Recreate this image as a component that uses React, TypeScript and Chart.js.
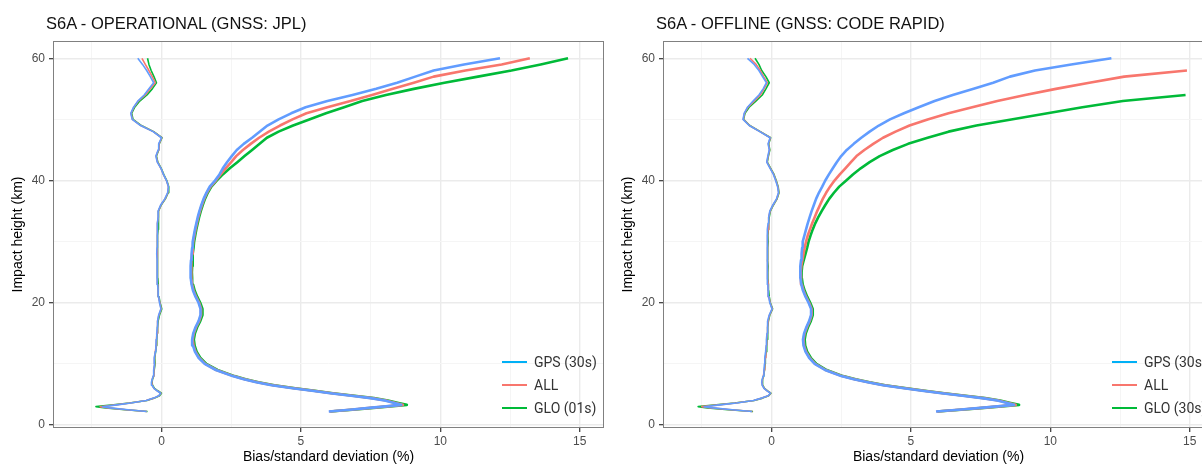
import React, { useEffect, useRef } from "react";
import { Chart, registerables } from "chart.js";

Chart.register(...registerables);

// ---------- data ----------
const HEIGHTS_KM = [
  2.2, 2.5, 2.8, 3.0, 3.3, 3.6, 4.0, 4.4, 4.8, 5.2, 5.6, 6.0, 6.5, 7.0, 7.5, 8.0,
  9, 10, 11, 12, 13, 14, 15, 16, 17, 18, 19, 20, 21, 22, 23, 24, 25, 26, 27, 28, 29, 30,
  31, 32, 33, 34, 35, 36, 37, 38, 39, 40, 41, 42, 43, 44, 45, 46, 47, 48, 49, 50,
  51, 52, 53, 54, 55, 56, 57, 58, 59, 60,
];

// Left panel: OPERATIONAL (GNSS: JPL)
const OPS_BIAS_GPS = [
  -0.53, -1.20, -1.85, -2.12, -1.60, -1.10, -0.55, -0.28, -0.10, -0.03, -0.16, -0.27, -0.34, -0.36, -0.33, -0.30,
  -0.28, -0.25, -0.26, -0.22, -0.20, -0.19, -0.17, -0.15, -0.14, -0.10, -0.02, -0.07, -0.10, -0.12, -0.14, -0.15, -0.16, -0.15, -0.16, -0.17, -0.16, -0.15,
  -0.16, -0.14, -0.14, -0.12, -0.12, -0.03, 0.12, 0.22, 0.25, 0.18, 0.07, -0.02, -0.15, -0.20, -0.12, -0.10, 0.00, -0.30, -0.75, -1.05,
  -1.10, -1.00, -0.85, -0.62, -0.45, -0.28, -0.40, -0.53, -0.68, -0.85,
];
const OPS_BIAS_ALL = [
  -0.52, -1.25, -1.92, -2.20, -1.65, -1.12, -0.55, -0.27, -0.09, -0.02, -0.15, -0.27, -0.33, -0.35, -0.33, -0.29,
  -0.27, -0.24, -0.25, -0.22, -0.19, -0.18, -0.16, -0.15, -0.13, -0.09, -0.01, -0.06, -0.10, -0.12, -0.13, -0.14, -0.15, -0.15, -0.15, -0.16, -0.15, -0.15,
  -0.15, -0.13, -0.13, -0.11, -0.11, -0.02, 0.13, 0.23, 0.25, 0.18, 0.07, -0.02, -0.14, -0.19, -0.11, -0.09, 0.01, -0.29, -0.74, -1.04,
  -1.09, -0.99, -0.83, -0.58, -0.40, -0.22, -0.33, -0.45, -0.58, -0.70,
];
const OPS_BIAS_GLO = [
  -0.50, -1.30, -2.00, -2.35, -1.72, -1.15, -0.52, -0.25, -0.07, 0.00, -0.13, -0.25, -0.32, -0.34, -0.32, -0.28,
  -0.26, -0.23, -0.24, -0.21, -0.18, -0.17, -0.15, -0.14, -0.12, -0.07, 0.01, -0.05, -0.09, -0.11, -0.12, -0.13, -0.14, -0.14, -0.14, -0.15, -0.14, -0.14,
  -0.14, -0.12, -0.12, -0.10, -0.10, -0.01, 0.14, 0.24, 0.26, 0.19, 0.08, -0.01, -0.13, -0.18, -0.10, -0.08, 0.02, -0.28, -0.72, -1.02,
  -1.07, -0.96, -0.78, -0.52, -0.33, -0.18, -0.27, -0.37, -0.45, -0.50,
];
const OPS_STD_GPS = [
  6.00, 6.75, 7.45, 7.95, 8.60, 8.35, 8.00, 7.50, 6.80, 6.05, 5.40, 4.70, 3.95, 3.40, 2.95, 2.55,
  1.95, 1.55, 1.33, 1.20, 1.13, 1.10, 1.14, 1.22, 1.33, 1.40, 1.40, 1.33, 1.22, 1.13, 1.08, 1.05, 1.04, 1.05, 1.06, 1.08, 1.10, 1.12,
  1.16, 1.20, 1.25, 1.30, 1.36, 1.43, 1.51, 1.61, 1.73, 1.92, 2.08, 2.20, 2.35, 2.52, 2.70, 2.95, 3.25, 3.52, 3.80, 4.20,
  4.65, 5.17, 5.95, 6.85, 7.70, 8.45, 9.10, 9.76, 10.85, 12.14,
];
const OPS_STD_ALL = [
  6.02, 6.78, 7.50, 8.00, 8.66, 8.40, 8.05, 7.55, 6.85, 6.10, 5.45, 4.75, 4.00, 3.44, 2.98, 2.58,
  1.97, 1.57, 1.35, 1.22, 1.15, 1.12, 1.16, 1.24, 1.35, 1.42, 1.42, 1.35, 1.24, 1.15, 1.10, 1.07, 1.06, 1.07, 1.08, 1.10, 1.12, 1.14,
  1.18, 1.22, 1.27, 1.32, 1.38, 1.45, 1.53, 1.63, 1.76, 1.95, 2.12, 2.30, 2.50, 2.68, 2.92, 3.20, 3.50, 3.85, 4.25, 4.70,
  5.20, 5.95, 6.78, 7.55, 8.30, 9.05, 9.76, 10.90, 12.20, 13.21,
];
const OPS_STD_GLO = [
  6.05, 6.85, 7.60, 8.10, 8.80, 8.50, 8.12, 7.62, 6.92, 6.15, 5.50, 4.80, 4.05, 3.48, 3.02, 2.62,
  2.01, 1.61, 1.39, 1.26, 1.19, 1.16, 1.20, 1.28, 1.39, 1.47, 1.47, 1.39, 1.28, 1.19, 1.13, 1.10, 1.09, 1.10, 1.11, 1.13, 1.15, 1.17,
  1.21, 1.25, 1.30, 1.35, 1.41, 1.48, 1.56, 1.66, 1.79, 1.98, 2.20, 2.45, 2.72, 2.98, 3.25, 3.52, 3.78, 4.20, 4.72, 5.30,
  5.90, 6.55, 7.20, 8.05, 9.05, 10.15, 11.35, 12.55, 13.60, 14.58,
];

// Right panel: OFFLINE (GNSS: CODE RAPID)
const OFF_BIAS_GPS = [
  -0.70, -1.40, -2.10, -2.42, -1.85, -1.25, -0.65, -0.35, -0.12, -0.04, -0.16, -0.27, -0.33, -0.35, -0.33, -0.30,
  -0.27, -0.25, -0.24, -0.21, -0.19, -0.18, -0.16, -0.15, -0.13, -0.08, 0.02, -0.06, -0.10, -0.12, -0.13, -0.15, -0.15, -0.14, -0.16, -0.16, -0.15, -0.14,
  -0.15, -0.13, -0.12, -0.10, -0.06, 0.05, 0.18, 0.25, 0.22, 0.15, 0.07, -0.05, -0.17, -0.13, -0.08, -0.12, -0.05, -0.42, -0.80, -1.02,
  -0.98, -0.86, -0.66, -0.45, -0.30, -0.18, -0.32, -0.45, -0.62, -0.86,
];
const OFF_BIAS_ALL = [
  -0.68, -1.45, -2.18, -2.50, -1.90, -1.28, -0.64, -0.34, -0.11, -0.03, -0.15, -0.26, -0.32, -0.34, -0.32, -0.29,
  -0.26, -0.24, -0.23, -0.20, -0.18, -0.17, -0.15, -0.14, -0.12, -0.07, 0.03, -0.05, -0.09, -0.11, -0.12, -0.14, -0.14, -0.13, -0.15, -0.15, -0.14, -0.13,
  -0.14, -0.12, -0.11, -0.09, -0.05, 0.06, 0.19, 0.26, 0.23, 0.16, 0.08, -0.04, -0.16, -0.12, -0.07, -0.11, -0.04, -0.41, -0.79, -1.01,
  -0.97, -0.84, -0.62, -0.40, -0.27, -0.15, -0.28, -0.40, -0.55, -0.77,
];
const OFF_BIAS_GLO = [
  -0.66, -1.55, -2.30, -2.63, -1.98, -1.32, -0.62, -0.32, -0.10, -0.02, -0.14, -0.25, -0.31, -0.33, -0.31, -0.28,
  -0.25, -0.23, -0.22, -0.19, -0.17, -0.16, -0.14, -0.13, -0.11, -0.06, 0.04, -0.04, -0.08, -0.10, -0.11, -0.13, -0.13, -0.12, -0.14, -0.14, -0.13, -0.12,
  -0.13, -0.11, -0.10, -0.08, -0.04, 0.07, 0.20, 0.27, 0.24, 0.17, 0.09, -0.03, -0.15, -0.11, -0.06, -0.10, -0.03, -0.40, -0.78, -1.00,
  -0.95, -0.80, -0.56, -0.33, -0.20, -0.08, -0.20, -0.35, -0.45, -0.59,
];
const OFF_STD_GPS = [
  5.90, 6.70, 7.50, 8.00, 8.70, 8.45, 8.10, 7.55, 6.85, 6.10, 5.40, 4.75, 4.00, 3.45, 2.95, 2.50,
  1.92, 1.55, 1.35, 1.22, 1.15, 1.13, 1.17, 1.25, 1.35, 1.42, 1.42, 1.33, 1.22, 1.13, 1.07, 1.04, 1.03, 1.04, 1.06, 1.08, 1.10, 1.12,
  1.18, 1.24, 1.30, 1.37, 1.44, 1.52, 1.60, 1.70, 1.82, 1.93, 2.06, 2.20, 2.34, 2.50, 2.70, 2.95, 3.22, 3.52, 3.85, 4.25,
  4.75, 5.28, 5.85, 6.50, 7.25, 7.95, 8.55, 9.45, 10.75, 12.19,
];
const OFF_STD_ALL = [
  5.92, 6.73, 7.55, 8.05, 8.76, 8.50, 8.14, 7.60, 6.90, 6.15, 5.45, 4.80, 4.04, 3.48, 2.98, 2.53,
  1.94, 1.57, 1.37, 1.24, 1.17, 1.15, 1.19, 1.27, 1.37, 1.44, 1.44, 1.35, 1.24, 1.15, 1.09, 1.06, 1.05, 1.07, 1.11, 1.15, 1.19, 1.24,
  1.30, 1.38, 1.46, 1.55, 1.64, 1.74, 1.84, 1.96, 2.10, 2.26, 2.45, 2.65, 2.85, 3.05, 3.33, 3.65, 4.00, 4.45, 4.95, 5.60,
  6.35, 7.20, 8.10, 9.10, 10.20, 11.40, 12.65, 14.90, null, null,
];
const OFF_STD_GLO = [
  5.95, 6.80, 7.62, 8.15, 8.88, 8.58, 8.20, 7.66, 6.96, 6.20, 5.50, 4.85, 4.08, 3.52, 3.02, 2.57,
  1.98, 1.61, 1.41, 1.28, 1.21, 1.19, 1.23, 1.31, 1.41, 1.48, 1.48, 1.39, 1.28, 1.19, 1.12, 1.09, 1.08, 1.10, 1.16, 1.22, 1.28, 1.33,
  1.40, 1.48, 1.57, 1.68, 1.80, 1.93, 2.07, 2.24, 2.43, 2.68, 2.92, 3.20, 3.52, 3.88, 4.35, 4.90, 5.60, 6.35, 7.35, 8.60,
  9.90, 11.15, 12.60, 14.85, null, null, null, null, null, null,
];

const X_TICKS = [-2.5, 0, 2.5, 5, 7.5, 10, 12.5, 15];
const X_TICK_LABELS = ["", "0", "", "5", "", "10", "", "15"];
const Y_TICKS = [0, 10, 20, 30, 40, 50, 60];
const Y_TICK_LABELS = ["0", "", "20", "", "40", "", "60"];
const X_MIN = -3.89;
const X_MAX = 15.87;
const Y_MIN = -0.49;
const Y_MAX = 62.83;

const SERIES_NAMES = ["GPS (30s)", "ALL", "GLO"];
const LINE_COLORS = ["#619CFF", "#F8766D", "#00BA38"];
const LEGEND_COLORS = ["#00B0F6", "#F8766D", "#00BA38"];

// ---------- styling ----------
const SANS = "'Liberation Sans', Arial, Helvetica, sans-serif";
const LEGEND_FONT = "Roboto, 'Liberation Sans', sans-serif";

const panelBorder = {
  id: "panelBorder",
  afterDatasetsDraw(chart: any) {
    const { ctx, chartArea: a } = chart;
    ctx.save();
    ctx.strokeStyle = "#808080";
    ctx.lineWidth = 1;
    ctx.strokeRect(a.left + 0.5, a.top + 0.5, a.right - a.left - 1, a.bottom - a.top - 1);
    ctx.restore();
  },
};

function toPoints(values: (number | null)[]) {
  const pts: { x: number; y: number }[] = [];
  HEIGHTS_KM.forEach((h, i) => {
    const v = values[i];
    if (v !== null && v !== undefined) pts.push({ x: v, y: h });
  });
  return pts;
}

type PanelProps = {
  left: number;
  title: string;
  legendLabels: string[];
  bias: (number | null)[][];
  std: (number | null)[][];
};

function Panel({ left, title, legendLabels, bias, std }: PanelProps) {
  const ref = useRef<HTMLCanvasElement | null>(null);

  useEffect(() => {
    if (!ref.current) return;
    const datasets: any[] = [];
    std.forEach((vals, i) => {
      datasets.push({
        label: SERIES_NAMES[i] + " std",
        data: toPoints(vals),
        showLine: true,
        borderColor: LINE_COLORS[i],
        backgroundColor: LINE_COLORS[i],
        borderWidth: 2.6,
        pointRadius: 0,
        borderJoinStyle: "round",
        tension: 0,
      });
    });
    bias.forEach((vals, i) => {
      datasets.push({
        label: SERIES_NAMES[i] + " bias",
        data: toPoints(vals),
        showLine: true,
        borderColor: LINE_COLORS[i],
        backgroundColor: LINE_COLORS[i],
        borderWidth: 1.6,
        pointRadius: 0,
        borderJoinStyle: "round",
        tension: 0,
      });
    });

    const isMajorX = (v: number) => Math.abs(v % 5) < 1e-9;
    const isMajorY = (v: number) => Math.abs(v % 20) < 1e-9;

    const chart = new Chart(ref.current, {
      type: "scatter",
      data: { datasets },
      plugins: [panelBorder],
      options: {
        responsive: false,
        animation: false,
        devicePixelRatio: 1,
        layout: { padding: { top: 41, right: 6, bottom: 0, left: 0 } },
        plugins: {
          legend: { display: false },
          tooltip: { enabled: false },
          title: { display: false },
        },
        scales: {
          x: {
            type: "linear",
            min: X_MIN,
            max: X_MAX,
            afterBuildTicks: (s: any) => {
              s.ticks = X_TICKS.map((v) => ({ value: v }));
            },
            afterFit: (s: any) => {
              s.height = 38;
            },
            border: { display: false },
            grid: {
              color: (c: any) => (c.tick && isMajorX(c.tick.value) ? "#EBEBEB" : "#F5F5F5"),
              lineWidth: (c: any) => (c.tick && isMajorX(c.tick.value) ? 1.4 : 1),
              tickLength: 4,
              tickWidth: 1.2,
              tickColor: (c: any) => (c.tick && isMajorX(c.tick.value) ? "#333333" : "rgba(0,0,0,0)"),
            },
            ticks: {
              autoSkip: false,
              maxRotation: 0,
              padding: 2,
              color: "#4D4D4D",
              font: { family: SANS, size: 12 },
              callback: (v: any) => {
                const k = X_TICKS.indexOf(Number(v));
                return k >= 0 ? X_TICK_LABELS[k] : "";
              },
            },
            title: {
              display: true,
              text: "Bias/standard deviation (%)",
              color: "#000000",
              font: { family: SANS, size: 14 },
              padding: { top: 0, bottom: 0 },
            },
          },
          y: {
            type: "linear",
            min: Y_MIN,
            max: Y_MAX,
            afterBuildTicks: (s: any) => {
              s.ticks = Y_TICKS.map((v) => ({ value: v }));
            },
            afterFit: (s: any) => {
              s.width = 53;
            },
            border: { display: false },
            grid: {
              color: (c: any) => (c.tick && isMajorY(c.tick.value) ? "#EBEBEB" : "#F5F5F5"),
              lineWidth: (c: any) => (c.tick && isMajorY(c.tick.value) ? 1.4 : 1),
              tickLength: 4,
              tickWidth: 1.2,
              tickColor: (c: any) => (c.tick && isMajorY(c.tick.value) ? "#333333" : "rgba(0,0,0,0)"),
            },
            ticks: {
              autoSkip: false,
              padding: 4,
              color: "#4D4D4D",
              font: { family: SANS, size: 12 },
              callback: (v: any) => {
                const k = Y_TICKS.indexOf(Number(v));
                return k >= 0 ? Y_TICK_LABELS[k] : "";
              },
            },
            title: {
              display: true,
              text: "Impact height (km)",
              color: "#000000",
              font: { family: SANS, size: 14 },
              padding: { top: 10, bottom: 0 },
            },
          },
        },
      } as any,
    });
    return () => chart.destroy();
  }, []);

  return (
    <div style={{ position: "absolute", left, top: 0, width: 610, height: 466 }}>
      <canvas ref={ref} width={610} height={466} style={{ display: "block" }} />
      <div
        style={{
          position: "absolute",
          left: 46,
          top: 12.8,
          fontFamily: SANS,
          fontSize: 16.5,
          lineHeight: "20px",
          color: "#111",
          whiteSpace: "nowrap",
        }}
      >
        {title}
      </div>
      <div style={{ position: "absolute", left: 502, top: 350.5 }}>
        {legendLabels.map((lab, i) => (
          <div key={lab + i} style={{ display: "flex", alignItems: "center", height: 23 }}>
            <span
              style={{
                display: "inline-block",
                width: 25,
                height: 2.8,
                background: LEGEND_COLORS[i],
                marginRight: 7,
              }}
            />
            <span
              style={{
                fontFamily: LEGEND_FONT,
                fontSize: 14,
                color: "#333",
                whiteSpace: "nowrap",
                lineHeight: "23px",
              }}
            >
              {lab}
            </span>
          </div>
        ))}
      </div>
    </div>
  );
}

export default function App() {
  return (
    <div
      style={{
        position: "fixed",
        left: 0,
        top: 0,
        width: 1202,
        height: 466,
        overflow: "hidden",
        background: "#ffffff",
      }}
    >
      <Panel
        left={0}
        title="S6A - OPERATIONAL (GNSS: JPL)"
        legendLabels={["GPS (30s)", "ALL", "GLO (01s)"]}
        bias={[OPS_BIAS_GPS, OPS_BIAS_ALL, OPS_BIAS_GLO]}
        std={[OPS_STD_GPS, OPS_STD_ALL, OPS_STD_GLO]}
      />
      <Panel
        left={610}
        title="S6A - OFFLINE (GNSS: CODE RAPID)"
        legendLabels={["GPS (30s)", "ALL", "GLO (30s)"]}
        bias={[OFF_BIAS_GPS, OFF_BIAS_ALL, OFF_BIAS_GLO]}
        std={[OFF_STD_GPS, OFF_STD_ALL, OFF_STD_GLO]}
      />
    </div>
  );
}
